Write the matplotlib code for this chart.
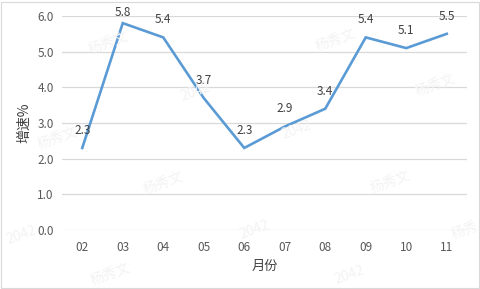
import matplotlib
matplotlib.use("Agg")
import matplotlib.pyplot as plt
from matplotlib.patches import Rectangle

plt.rcParams['font.family'] = ['Noto Sans CJK SC', 'DejaVu Sans']

months = ["02", "03", "04", "05", "06", "07", "08", "09", "10", "11"]
growth = [2.3, 5.8, 5.4, 3.7, 2.3, 2.9, 3.4, 5.4, 5.1, 5.5]
yticks = [0.0, 1.0, 2.0, 3.0, 4.0, 5.0, 6.0]

# faint watermarks (pixel positions in the 481x289 canvas)
marks = [("杨秀文", 108, 43), ("杨秀文", 57, 138), ("杨秀文", 163, 183), ("杨秀文", 110, 274),
         ("杨秀文", 390, 182), ("杨秀文", 335, 40), ("杨秀文", 435, 85), ("杨秀", 465, 230),
         ("2042", 22, 235), ("2042", 255, 230), ("2042", 350, 275), ("2042", 297, 130),
         ("2042", 196, 92)]

W, H = 481, 289
fig = plt.figure(figsize=(W / 100, H / 100), dpi=100)
ax = fig.add_axes([62 / W, 1 - 230 / H, (467 - 62) / W, (230 - 16) / H])

x = list(range(len(months)))
ax.plot(x, growth, color="#5B9BD5", lw=1.9, solid_joinstyle="miter", zorder=3)
for xi, v in zip(x, growth):
    dy = 3 if v > 5.6 else 8
    ax.annotate(f"{v:.1f}", (xi, v), xytext=(0, dy), textcoords="offset points",
                ha="center", va="bottom", fontsize=8.5, color="#404040", zorder=4)

ax.set_xlim(-0.5, len(months) - 0.5)
ax.set_ylim(0, 6)
ax.set_xticks(x)
ax.set_xticklabels(months)
ax.set_yticks(yticks)
ax.set_yticklabels([f"{t:.1f}" for t in yticks])
ax.tick_params(length=0, labelsize=8.5, labelcolor="#595959")
ax.tick_params(axis="x", pad=8)
ax.tick_params(axis="y", pad=6)
ax.grid(axis="y", color="#D9D9D9", lw=0.9)
ax.set_axisbelow(True)
for s in ax.spines.values():
    s.set_visible(False)

ax.set_ylabel("增速%", fontsize=10, color="#404040", labelpad=4)
ax.set_xlabel("月份", fontsize=9.5, color="#404040", labelpad=4)

for txt, px, py in marks:
    fig.text(px / W, 1 - py / H, txt, fontsize=10, color="#F3F3F3", rotation=20,
             ha="center", va="center", zorder=0)

fig.patches.append(Rectangle((1 / W, 1 / H), (W - 3) / W, (H - 3) / H, transform=fig.transFigure,
                             fill=False, edgecolor="#D9D9D9", lw=0.8))

fig.savefig("out.png", dpi=100)
